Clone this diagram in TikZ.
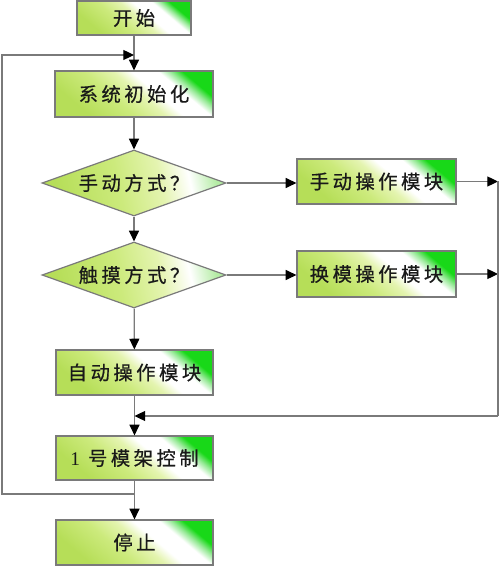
\documentclass[tikz,border=0pt]{standalone}
\usepackage{fontspec}
\setmainfont{Liberation Serif}
\newfontfamily\cjk[LetterSpace=18,FakeBold=0.6]{Noto Sans CJK SC}
\usetikzlibrary{arrows.meta,shapes.geometric}
\definecolor{gyd}{HTML}{B6DE58}
\definecolor{gyl}{HTML}{CCEA7C}
\definecolor{gyll}{HTML}{E4F4B0}
\definecolor{grn}{HTML}{18D818}
\definecolor{mgrn}{HTML}{98EA98}
\definecolor{lgrn}{HTML}{B4ECA4}
\definecolor{lin}{HTML}{7A7A7A}
\pgfdeclarehorizontalshading{boxfill}{100bp}{color(0bp)=(gyd); color(27bp)=(gyd); color(42bp)=(gyl); color(52bp)=(gyll); color(58bp)=(white); color(67bp)=(white); color(71bp)=(mgrn); color(75bp)=(grn); color(100bp)=(grn)}
\pgfdeclarehorizontalshading{diafill}{100bp}{color(0bp)=(gyd); color(26bp)=(gyd); color(45bp)=(gyl); color(58bp)=(gyll); color(67bp)=(white); color(75bp)=(lgrn); color(100bp)=(lgrn)}
\begin{document}
\begin{tikzpicture}[x=0.75pt,y=-0.75pt,
  txt/.style={font=\cjk\fontsize{14.5}{16}\selectfont, text=black!90},
  box/.style={txt, draw=lin, line width=0.9pt, shading=boxfill, shading angle=50, inner sep=0pt},
  dia/.style={txt, diamond, draw=lin, line width=0.9pt, shading=diafill, shading angle=12, inner sep=0pt, aspect=2.8, minimum width=138pt, minimum height=49.5pt},
  line/.style={draw=lin, line width=0.9pt},
  arr/.style={line, -{Triangle[length=8pt,width=7.5pt,color=black]}}
]
\useasboundingbox (0,0) rectangle (500,566);
\node[box, minimum width=85.5pt, minimum height=25.5pt] (start) at (134,18) {开始};
\node[box, minimum width=118.5pt, minimum height=34.5pt] (init) at (134,94) {系统初始化};
\node[dia] (d1) at (134,183) {手动方式？};
\node[dia] (d2) at (134,275) {触摸方式？};
\node[box, minimum width=119.25pt, minimum height=33.75pt] (manual) at (376.5,181.5) {手动操作模块};
\node[box, minimum width=119.25pt, minimum height=34.5pt] (swap) at (376.5,274) {换模操作模块};
\node[box, minimum width=117.75pt, minimum height=33.75pt] (auto) at (134.5,372.5) {自动操作模块};
\node[box, minimum width=117.75pt, minimum height=33pt] (ctrl) at (134.5,458) {{\normalfont 1}\hspace{6pt}号模架控制};
\node[box, minimum width=117.75pt, minimum height=33.75pt] (stop) at (134.5,542.5) {停止};
\coordinate (lb) at (2,494);
\coordinate (lt) at (2,55);
\coordinate (rx) at (498,0);
\coordinate (rb) at (498,416);
\draw[arr] (start) -- (init);
\draw[arr] (init) -- (d1);
\draw[arr] (d1) -- (d2);
\draw[arr] (d2) -- (auto);
\draw[arr] (auto) -- (ctrl);
\draw[arr] (ctrl) -- (stop);
\draw[arr] (d1.east) -- (manual.west |- d1.east);
\draw[arr] (d2.east) -- (swap.west |- d2.east);
\draw[arr] (manual.east) -- (manual.east -| rx);
\draw[arr] (swap.east) -- (swap.east -| rx);
\draw[line] (manual.east -| rx) -- (rb);
\draw[arr] (rb) -- (rb -| auto.south);
\draw[arr] (lb -| ctrl.south) -- (lb) -- (lt) -- (lt -| init.north);
\end{tikzpicture}
\end{document}
